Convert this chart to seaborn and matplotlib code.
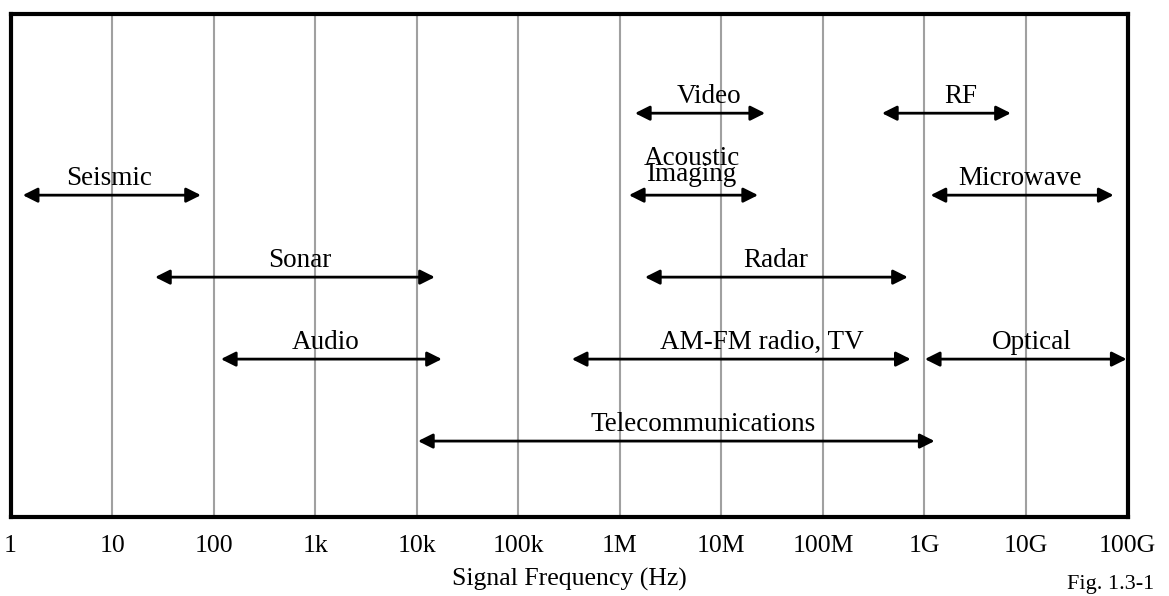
import matplotlib

matplotlib.use('Agg')
import matplotlib.pyplot as plt
import seaborn as sns

# Frequency bands (Hz)
bands = ['Seismic', 'Sonar', 'Audio', 'Telecommunications', 'Video',
         'Acoustic\nImaging', 'Radar', 'AM-FM radio, TV', 'RF', 'Microwave', 'Optical']
f_low = [1.32, 26.5, 118, 10.3e3, 1.41e6, 1.23e6, 1.77e6, 337e3, 382e6, 1.15e9, 1.01e9]
f_high = [75, 15.1e3, 17.7e3, 1.26e9, 27e6, 23e6, 687e6, 733e6, 7.1e9, 73e9, 98e9]
rows = [4, 3, 2, 1, 5, 4, 3, 2, 5, 4, 2]
label_at = [9.4, 705, 1.28e3, 6.6e6, 7.5e6, 5.1e6, 34.5e6, 25e6, 2.3e9, 8.7e9, 11.5e9]

tick_vals = [10 ** k for k in range(12)]
tick_labels = ['1', '10', '100', '1k', '10k', '100k', '1M', '10M', '100M', '1G', '10G', '100G']

sns.set_theme(style='white')
plt.rcParams['font.family'] = ['Liberation Serif', 'DejaVu Serif']

fig = plt.figure(figsize=(11.69, 5.96), dpi=100)
ax = fig.add_axes([0.009, 0.133, 0.9555, 0.8435])

ax.set_xscale('log')
ax.set_xlim(1, 1e11)
ax.set_ylim(0.077, 6.21)

ax.set_xticks(tick_vals)
ax.set_xticklabels(tick_labels)
ax.minorticks_off()
ax.set_yticks([])
ax.tick_params(axis='x', length=0, pad=13, labelsize=18.5, labelcolor='black')
ax.grid(axis='x', color='#a0a0a0', linewidth=1.5)
ax.set_axisbelow(True)

for s in ax.spines.values():
    s.set_visible(True)
    s.set_color('black')
    s.set_linewidth(3)

# double-headed arrows for each band
for name, lo, hi, r, lx in zip(bands, f_low, f_high, rows, label_at):
    ax.annotate('', xy=(hi, r), xytext=(lo, r),
                arrowprops=dict(arrowstyle='<|-|>', color='black', lw=2,
                                mutation_scale=22, shrinkA=0, shrinkB=0))
    multi = '\n' in name
    ax.annotate(name, xy=(lx, r), xytext=(0, 10 if multi else 7),
                textcoords='offset points', ha='center', va='baseline',
                multialignment='center', linespacing=0.55,
                fontsize=19.5, color='black')

ax.set_xlabel('Signal Frequency (Hz)', fontsize=18.5, color='black', labelpad=8)
fig.text(1111 / 1169, 1 - 584 / 596, 'Fig. 1.3-1', ha='center', va='center',
         fontsize=16, color='black')

fig.savefig('out.png', dpi=100)
